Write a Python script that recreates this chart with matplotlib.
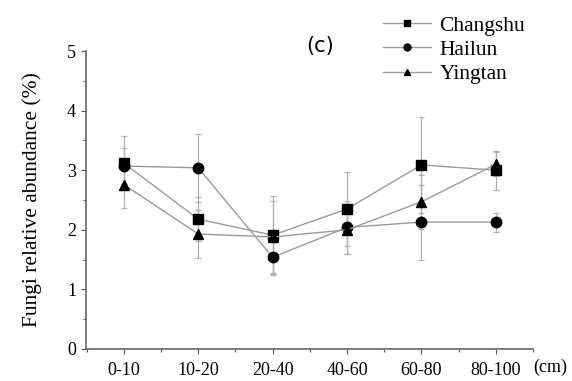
import matplotlib
matplotlib.use("Agg")
import matplotlib.pyplot as plt
from matplotlib.ticker import MultipleLocator
from matplotlib.lines import Line2D

categories = ["0-10", "10-20", "20-40", "40-60", "60-80", "80-100"]
changshu = [3.12, 2.18, 1.91, 2.35, 3.09, 3.00]
changshu_err = [0.45, 0.37, 0.65, 0.62, 0.80, 0.33]
hailun = [3.07, 3.04, 1.54, 2.04, 2.13, 2.13]
hailun_err = [0.30, 0.57, 0.30, 0.45, 0.63, 0.16]
yingtan = [2.76, 1.93, 1.88, 2.00, 2.47, 3.10]
yingtan_err = [0.40, 0.40, 0.60, 0.40, 0.45, 0.20]

plt.rcParams['font.family'] = ['Liberation Serif', 'DejaVu Serif']

fig = plt.figure(figsize=(5.72, 3.81), dpi=100)
ax = fig.add_axes([0.150, 0.084, 0.782, 0.782])

x = list(range(len(categories)))
line_c = '#9a9a9a'
series = [(changshu, changshu_err, 's', 'Changshu', 6.5),
          (hailun, hailun_err, 'o', 'Hailun', 7.5),
          (yingtan, yingtan_err, '^', 'Yingtan', 7.5)]
handles = []
for vals, errs, mk, lab, ms in series:
    ax.errorbar(x, vals, yerr=errs, color=line_c, lw=1.0, ecolor='#b0b0b0',
                elinewidth=0.9, capsize=2.5, capthick=0.9,
                marker=mk, markersize=ms, markerfacecolor='black',
                markeredgecolor='black')
    handles.append(Line2D([], [], color=line_c, lw=1.0, marker=mk, markersize=5,
                          markerfacecolor='black', markeredgecolor='black', label=lab))

ax.set_xlim(-0.51, 5.5)
ax.set_ylim(0, 5)
ax.set_xticks(x)
ax.set_xticklabels(categories)
ax.xaxis.set_minor_locator(MultipleLocator(0.5))
ax.yaxis.set_major_locator(MultipleLocator(1))
ax.yaxis.set_minor_locator(MultipleLocator(0.5))
ax.tick_params(axis='both', which='major', length=3.5, width=0.8, color='#555555', labelsize=13)
ax.tick_params(axis='x', which='major', pad=6)
ax.tick_params(axis='both', which='minor', length=2.5, width=0.8, color='#555555')
for s in ['top', 'right']:
    ax.spines[s].set_visible(False)
for s in ['left', 'bottom']:
    ax.spines[s].set_color('#666666')
    ax.spines[s].set_linewidth(1.2)

ax.set_ylabel('Fungi relative abundance (%)', fontsize=15.5, labelpad=18)
fig.text(320/572, 1 - 46/381, '(c)', fontsize=15, family='DejaVu Sans',
         ha='center', va='center')
fig.text(550/572, 1 - 367/381, '(cm)', fontsize=13, ha='center', va='center')

fig.legend(handles=handles, loc='upper left', bbox_to_anchor=(364/572, 1.01),
           frameon=False, fontsize=15.5, handlelength=2.2, labelspacing=0.2,
           handletextpad=0.4)

fig.savefig('out.png', dpi=100)
